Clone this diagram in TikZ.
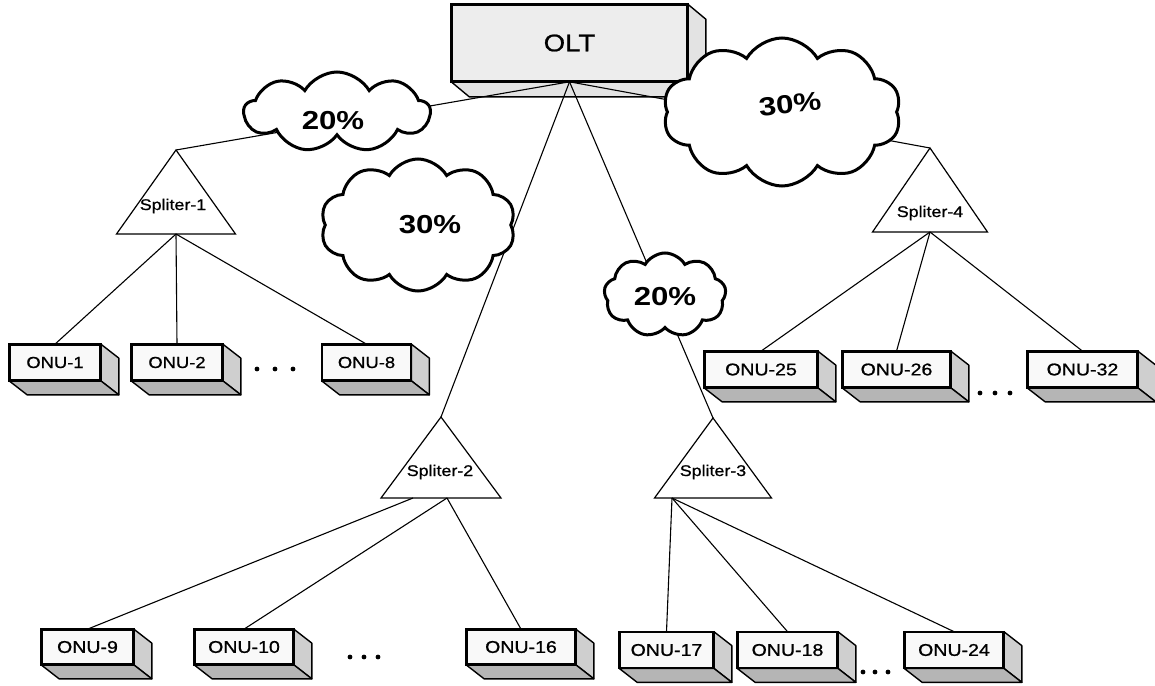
\documentclass[tikz,border=0pt]{standalone}
\usepackage{fontspec}
\newfontfamily\lblfont[FakeStretch=1.2]{Liberation Sans}
\newfontfamily\boxfont[FakeStretch=1.15,FakeBold=0.9]{Liberation Sans}
\usetikzlibrary{shapes.symbols,calc}

\begin{document}
\begin{tikzpicture}[x=1pt,y=-1pt,
  wire/.style={line width=1.1pt, black},
  oltbox/.style={draw, line width=1.6pt, fill=gray!14, inner sep=0pt,
    minimum width=235pt, minimum height=76pt,
    font=\boxfont\fontsize{24}{26}\selectfont},
  onubox/.style={draw, line width=1.7pt, fill=gray!5, inner sep=0pt,
    minimum height=35pt, font=\boxfont\fontsize{17}{19}\selectfont},
  onusmall/.style={onubox, font=\boxfont\fontsize{16}{18}\selectfont},
  sideface/.style={draw, line width=1.4pt, fill=gray!38, line join=round},
  bottomface/.style={draw, line width=1.4pt, fill=gray!58, line join=round},
  oltside/.style={draw, line width=1.4pt, fill=gray!22, line join=round},
  puff/.style={cloud, cloud puffs=10, cloud puff arc=120, cloud ignores aspect,
    draw, line width=3pt, fill=white, inner sep=0pt},
  pct/.style={font=\lblfont\bfseries\fontsize{26}{28}\selectfont},
  splitter/.style={draw, line width=1.2pt, fill=white, line join=miter},
  splabel/.style={font=\boxfont\fontsize{15.5}{17}\selectfont, inner sep=0pt},
  dot/.style={fill=black}
]
\useasboundingbox (0,0) rectangle (1155,685);

% ---------------- OLT -----------------
\node[oltbox] (olt) at (569.5,43) {OLT};
\filldraw[oltside] (olt.north east) -- ($(olt.north east)+(18,15)$)
  -- ($(olt.south east)+(18,15)$) -- (olt.south east) -- cycle;
\filldraw[oltside] (olt.south west) -- (olt.south east)
  -- ($(olt.south east)+(18,15)$) -- ($(olt.south west)+(18,15)$) -- cycle;
\draw[line width=1.6pt] (olt.north west) rectangle (olt.south east);

% ---------------- splitter geometry -----------------
\coordinate (sp1top) at (176,150);
\coordinate (sp2top) at (441,417);
\coordinate (sp3top) at (713,418);
\coordinate (sp4top) at (930,148);

% feeders from the OLT
\draw[wire] (olt.south) -- (sp1top);
\draw[wire] (olt.south) -- (sp2top);
\draw[wire] (olt.south) -- (sp3top);
\draw[wire] (olt.south) -- (sp4top);

% ---------------- bandwidth clouds -----------------
\node[puff, cloud puffs=9, minimum width=186pt, minimum height=80pt] (c1) at (337,112) {};
\node[pct] (c1t) at (333,121) {20\%};
\node[puff, minimum width=195pt, minimum height=132pt] (c2) at (418,225) {};
\node[pct] (c2t) at (430,225) {30\%};
\node[puff, cloud puffs=9, minimum width=122pt, minimum height=84pt] (c3) at (665,295) {};
\node[pct] (c3t) at (665,297) {20\%};
\node[puff, minimum width=238pt, minimum height=148pt] (c4) at (782,112) {};
\node[pct, rotate=6] (c4t) at (790,104) {30\%};

% ---------------- splitters -----------------
\filldraw[splitter] (sp1top) -- (235.5,234) -- (116.5,234) -- cycle;
\filldraw[splitter] (sp2top) -- (501,498) -- (381,498) -- cycle;
\filldraw[splitter] (sp3top) -- (771.5,498) -- (654.5,498) -- cycle;
\filldraw[splitter] (sp4top) -- (987.5,232) -- (872.5,232) -- cycle;
\node[splabel] (sp1) at (173,206) {Spliter-1};
\node[splabel] (sp2) at (440,472) {Spliter-2};
\node[splabel] (sp3) at (713,472) {Spliter-3};
\node[splabel] (sp4) at (930,213) {Spliter-4};

\coordinate (sp1out) at (176,234);
\coordinate (sp2outa) at (413,498);
\coordinate (sp2outb) at (447,498);
\coordinate (sp3out) at (672,498);
\coordinate (sp4out) at (930,232);

% ---------------- ONUs -----------------
\node[onusmall, minimum width=90pt] (onu1) at (55,362.5) {ONU-1};
\node[onusmall, minimum width=90pt] (onu2) at (177,362.5) {ONU-2};
\node[onusmall, minimum width=88pt] (onu8) at (366.5,362.5) {ONU-8};

\node[onubox, minimum width=112pt] (onu25) at (761,369.5) {ONU-25};
\node[onubox, minimum width=107pt] (onu26) at (896.5,369.5) {ONU-26};
\node[onubox, minimum width=109pt] (onu32) at (1082.5,369.5) {ONU-32};

\node[onubox, minimum width=91pt, minimum height=34pt] (onu9) at (87.5,647) {ONU-9};
\node[onubox, minimum width=98pt, minimum height=34pt] (onu10) at (244,647) {ONU-10};
\node[onubox, minimum width=108pt, minimum height=34pt] (onu16) at (521,647) {ONU-16};

\node[onubox, minimum width=93pt] (onu17) at (666.5,650) {ONU-17};
\node[onubox, minimum width=99pt] (onu18) at (787.5,650) {ONU-18};
\node[onubox, minimum width=98pt] (onu24) at (954,650) {ONU-24};

% box depth: right and bottom faces
\foreach \n in {onu1,onu2,onu8,onu25,onu26,onu32,onu9,onu10,onu16,onu17,onu18,onu24}{
  \filldraw[sideface] (\n.north east) -- ($(\n.north east)+(18,14)$)
    -- ($(\n.south east)+(18,14)$) -- (\n.south east) -- cycle;
  \filldraw[bottomface] (\n.south west) -- (\n.south east)
    -- ($(\n.south east)+(18,14)$) -- ($(\n.south west)+(18,14)$) -- cycle;
  \draw[line width=1.7pt] (\n.north west) rectangle (\n.south east);
}

% drops from the splitters
\draw[wire] (sp1out) -- (onu1.north);
\draw[wire] (sp1out) -- (onu2.north);
\draw[wire] (sp1out) -- (onu8.north);
\draw[wire] (sp2outa) -- (onu9.north);
\draw[wire] (sp2outb) -- (onu10.north);
\draw[wire] (sp2outb) -- (onu16.north);
\draw[wire] (sp3out) -- (onu17.north);
\draw[wire] (sp3out) -- (onu18.north);
\draw[wire] (sp3out) -- (onu24.north);
\draw[wire] (sp4out) -- (onu25.north);
\draw[wire] (sp4out) -- (onu26.north);
\draw[wire] (sp4out) -- (onu32.north);

% ellipses between ONUs
\foreach \x in {257,275,293} \fill[dot] (\x,369) circle (2.4pt);
\foreach \x in {980,995,1010} \fill[dot] (\x,393) circle (2.4pt);
\foreach \x in {350,364,378} \fill[dot] (\x,657) circle (2.4pt);
\foreach \x in {863,875,888} \fill[dot] (\x,672) circle (2.4pt);
\end{tikzpicture}
\end{document}
